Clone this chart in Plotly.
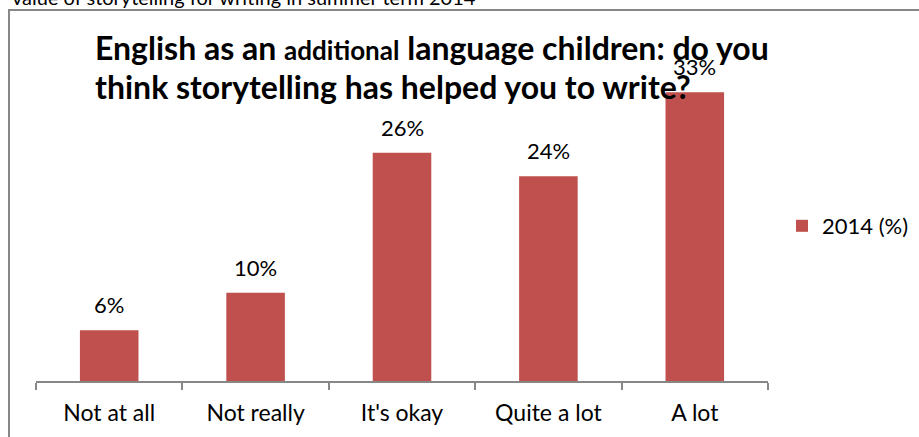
import plotly.graph_objects as go

categories = ["Not at all", "Not really", "It's okay", "Quite a lot", "A lot"]
values_2014 = [5.8, 10.1, 26.1, 23.4, 33.0]
value_labels = ["6%", "10%", "26%", "24%", "33%"]
series_name = "2014 (%)"
title_line1 = "English as an <span style='font-size:26px'>additional</span> language children: do you"
title_line2 = "think storytelling has helped you to write?"
cut_text = "value of storytelling for writing in summer term 2014"

W, H = 919, 437
L = 36
R = W - 768
T = 66
B = H - 381
PW, PH = W - L - R, H - T - B
YMAX = 36

def px_x(x):
    return (x - L) / PW

def px_y(y):
    return (H - B - y) / PH

FONT = "Lato, 'Open Sans', sans-serif"

fig = go.Figure()
fig.add_trace(go.Bar(
    x=categories, y=values_2014, name=series_name,
    marker=dict(color="#C0504D", line=dict(width=0)),
    width=0.4, showlegend=True,
))

annotations = []
for c, v, t in zip(categories, values_2014, value_labels):
    annotations.append(dict(x=c, y=v, xref="x", yref="y", text=t, showarrow=False,
                            yanchor="bottom", yshift=10, font=dict(size=22, color="#000", family=FONT)))

annotations.append(dict(x=px_x(93), y=px_y(48), xref="paper", yref="paper", text="<b>" + title_line1 + "</b>",
                        showarrow=False, xanchor="left", yanchor="middle",
                        font=dict(size=32, color="#000", family=FONT)))
annotations.append(dict(x=px_x(93), y=px_y(86), xref="paper", yref="paper", text="<b>" + title_line2 + "</b>",
                        showarrow=False, xanchor="left", yanchor="middle",
                        font=dict(size=32, color="#000", family=FONT)))
annotations.append(dict(x=px_x(10), y=px_y(11), xref="paper", yref="paper", text=cut_text,
                        showarrow=False, xanchor="left", yanchor="bottom",
                        font=dict(size=20, color="#000", family=FONT)))

fig.update_layout(
    width=W, height=H,
    margin=dict(l=L, r=R, t=T, b=B, autoexpand=False),
    paper_bgcolor="white", plot_bgcolor="white",
    font=dict(family=FONT, size=22, color="#000"),
    bargap=0.6,
    annotations=annotations,
    legend=dict(x=px_x(782), y=px_y(226), xanchor="left", yanchor="middle",
                font=dict(size=22, family=FONT, color="#000"),
                bgcolor="rgba(0,0,0,0)", itemwidth=30),
    shapes=[dict(type="rect", xref="paper", yref="paper",
                 x0=px_x(9), x1=px_x(960), y0=px_y(480), y1=px_y(10),
                 line=dict(color="#878787", width=2), fillcolor="rgba(0,0,0,0)", layer="below")],
    xaxis=dict(showline=True, linecolor="#878787", linewidth=2, ticks="outside",
               tickson="boundaries", ticklen=7, tickcolor="#878787", tickwidth=2,
               showgrid=False, ticklabelstandoff=10,
               tickfont=dict(size=23, family=FONT, color="#000")),
    yaxis=dict(range=[0, YMAX], visible=False, showgrid=False),
)

fig.write_html("out.html", config={"displayModeBar": False},
               post_script="document.body.style.margin='0';document.body.style.overflow='hidden';")
